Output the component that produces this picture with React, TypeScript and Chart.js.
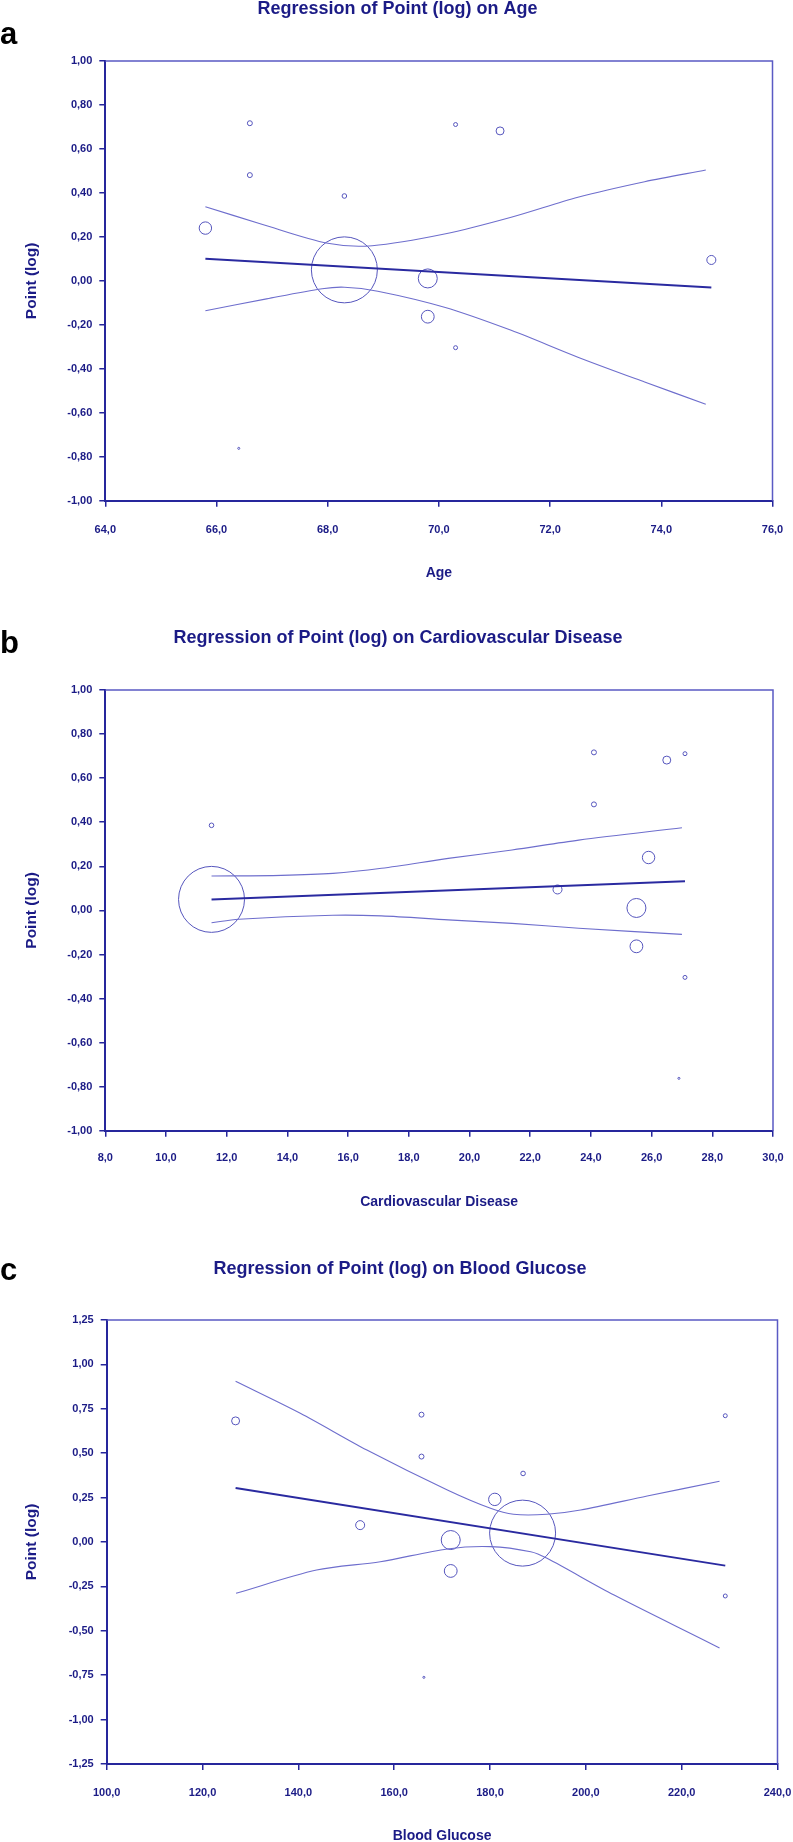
import React, { useEffect, useRef } from "react";
import { Chart, registerables } from "chart.js";

Chart.register(...registerables);

// ---- Study data ----
const pointLog = [0.717, 0.481, 0.386, 0.05, -0.762, 0.711, 0.682, 0.011, -0.163, -0.304, 0.095, 0.24];
const studyAge = [66.6, 66.6, 68.3, 68.3, 66.4, 70.3, 71.1, 69.8, 69.8, 70.3, 74.9, 65.8];
const studyCvd = [24.1, 24.1, 11.5, 11.5, 26.9, 27.1, 26.5, 25.5, 25.5, 27.1, 22.9, 25.9];
const studyGlucose = [165.7, 165.7, 186.9, 186.8, 166.2, 229.1, 126.9, 171.8, 171.8, 229.1, 152.9, 181.0];
const studyWeight = [0.47, 0.47, 0.4, 82.6, 0.08, 0.3, 1.21, 6.85, 3.11, 0.3, 1.54, 2.92];

// ---- Tick values ----
const ageTicks = [64, 66, 68, 70, 72, 74, 76];
const cvdTicks = [8, 10, 12, 14, 16, 18, 20, 22, 24, 26, 28, 30];
const glucoseTicks = [100, 120, 140, 160, 180, 200, 220, 240];
const pointTicksAB = [-1, -0.8, -0.6, -0.4, -0.2, 0, 0.2, 0.4, 0.6, 0.8, 1];
const pointTicksC = [-1.25, -1, -0.75, -0.5, -0.25, 0, 0.25, 0.5, 0.75, 1, 1.25];

// ---- Regression line and confidence band ----
const ageFitX = [65.8, 74.9];
const ageFitY = [0.1, -0.03];
const ageUpperX = [65.8, 66.8, 68.0, 68.8, 70.1, 71.3, 72.5, 73.7, 74.8];
const ageUpperY = [0.337, 0.259, 0.171, 0.16, 0.213, 0.289, 0.38, 0.451, 0.504];
const ageLowerX = [65.8, 66.9, 67.9, 68.3, 68.9, 70.1, 71.3, 72.5, 73.7, 74.8];
const ageLowerY = [-0.136, -0.082, -0.036, -0.029, -0.047, -0.12, -0.225, -0.347, -0.46, -0.561];

const cvdFitX = [11.5, 27.1];
const cvdFitY = [0.05, 0.132];
const cvdUpperX = [11.5, 13.8, 15.5, 17.1, 19.3, 21.4, 23.6, 27.0];
const cvdUpperY = [0.156, 0.159, 0.168, 0.191, 0.236, 0.274, 0.319, 0.375];
const cvdLowerX = [11.5, 12.4, 15.5, 17.1, 19.3, 21.4, 23.6, 27.0];
const cvdLowerY = [-0.056, -0.04, -0.022, -0.025, -0.043, -0.059, -0.081, -0.109];

const gluFitX = [126.9, 229.1];
const gluFitY = [0.304, -0.133];
const gluUpperX = [126.9, 140.4, 154.3, 171.1, 180.1, 184.9, 191.9, 198.9, 212.8, 227.9];
const gluUpperY = [0.905, 0.725, 0.518, 0.293, 0.19, 0.156, 0.156, 0.18, 0.259, 0.342];
const gluLowerX = [127.0, 143.8, 157.1, 171.1, 180.1, 188.5, 191.9, 205.9, 224.6, 227.9];
const gluLowerY = [-0.289, -0.158, -0.111, -0.039, -0.026, -0.055, -0.092, -0.299, -0.552, -0.597];

// ---- Styles ----
const NAVY = "#1b1b86";
const AXIS = "#26269c";
const FRAME = "#5a5ac4";
const BUBBLE = "#5555bd";
const FIT = "#2a2aa0";
const BAND = "#6e6ecd";
const FONT = "'Liberation Sans', Arial, Helvetica, sans-serif";
const Y_TITLE_SIZE = 15.5;
const Y_TITLE_CENTER = 32;

type Spec = {
  letter: string;
  title: string;
  xTitle: string;
  xs: number[];
  xTicks: number[];
  yTicks: number[];
  fitX: number[]; fitY: number[];
  upX: number[]; upY: number[];
  loX: number[]; loY: number[];
  top: number; height: number;
  plotLeft: number; plotRight: number;
  titleCenter: number;
  titlePadTop: number; titlePadBottom: number;
  xAxisHeight: number; xTitlePadBottom: number;
  xTickPad: number;
  letterTop: number;
};

type Geom = { padLeft: number; padRight: number };

const toXY = (xs: number[], ys: number[]) => xs.map((x, i) => ({ x, y: ys[i] }));

const framePlugin = {
  id: "frameTopRight",
  beforeDatasetsDraw(chart: any) {
    const { ctx, chartArea: a } = chart;
    ctx.save();
    ctx.strokeStyle = FRAME;
    ctx.lineWidth = 1.5;
    ctx.beginPath();
    ctx.moveTo(a.left, a.top);
    ctx.lineTo(a.right, a.top);
    ctx.lineTo(a.right, a.bottom);
    ctx.stroke();
    ctx.restore();
  },
};

function yTitlePad(g: Geom) {
  return { top: Y_TITLE_CENTER - g.padLeft - (Y_TITLE_SIZE * 1.2) / 2, bottom: 0 };
}

function geomFor(s: Spec): Geom {
  const padRight = 793 - s.plotRight;
  return { padRight, padLeft: Math.max(0, 2 * s.titleCenter - 793 + padRight) };
}

function buildConfig(s: Spec, g: Geom): any {
  const bubbles = s.xs.map((x, i) => ({ x, y: pointLog[i], r: Math.sqrt(studyWeight[i]) * 3.63 }));
  const lineBase = { type: "line", pointRadius: 0, fill: false, tension: 0.3 };
  return {
    type: "bubble",
    data: {
      datasets: [
        { ...lineBase, data: toXY(s.upX, s.upY), borderColor: BAND, borderWidth: 1.1 },
        { ...lineBase, data: toXY(s.loX, s.loY), borderColor: BAND, borderWidth: 1.1 },
        { ...lineBase, tension: 0, data: toXY(s.fitX, s.fitY), borderColor: FIT, borderWidth: 2 },
        {
          type: "bubble",
          data: bubbles,
          backgroundColor: "rgba(0,0,0,0)",
          borderColor: BUBBLE,
          borderWidth: 1,
          hoverRadius: 0,
        },
      ],
    },
    options: {
      responsive: false,
      animation: false,
      events: [],
      layout: { autoPadding: false, padding: { left: g.padLeft, right: g.padRight, top: 0, bottom: 0 } },
      plugins: {
        legend: { display: false },
        tooltip: { enabled: false },
        title: {
          display: true,
          text: s.title,
          color: NAVY,
          font: { family: FONT, size: 18, weight: "bold", lineHeight: 1.2 },
          padding: { top: s.titlePadTop, bottom: s.titlePadBottom },
        },
      },
      scales: {
        x: {
          type: "linear",
          min: s.xTicks[0],
          max: s.xTicks[s.xTicks.length - 1],
          afterBuildTicks: (sc: any) => { sc.ticks = s.xTicks.map((v) => ({ value: v })); },
          afterFit: (sc: any) => {
            sc.height = s.xAxisHeight;
            sc.paddingLeft = 0;
            sc.paddingRight = 0;
          },
          ticks: {
            color: NAVY,
            font: { family: FONT, size: 11, weight: "bold" },
            padding: s.xTickPad,
            maxRotation: 0,
            autoSkip: false,
            callback: (v: any) => Number(v).toFixed(1).replace(".", ","),
          },
          grid: { display: true, drawOnChartArea: false, drawTicks: true, tickLength: 6, color: AXIS, lineWidth: 1.5 },
          border: { display: true, color: AXIS, width: 2 },
          title: {
            display: true,
            text: s.xTitle,
            color: NAVY,
            font: { family: FONT, size: 14, weight: "bold", lineHeight: 1.2 },
            padding: { top: 0, bottom: s.xTitlePadBottom },
          },
        },
        y: {
          type: "linear",
          min: s.yTicks[0],
          max: s.yTicks[s.yTicks.length - 1],
          afterBuildTicks: (sc: any) => { sc.ticks = s.yTicks.map((v) => ({ value: v })); },
          afterFit: (sc: any) => {
            sc.width = s.plotLeft - g.padLeft;
            sc.paddingTop = 0;
            sc.paddingBottom = 0;
          },
          ticks: {
            color: NAVY,
            font: { family: FONT, size: 11, weight: "bold" },
            padding: 7,
            autoSkip: false,
            callback: (v: any) => Number(v).toFixed(2).replace(".", ","),
          },
          grid: { display: true, drawOnChartArea: false, drawTicks: true, tickLength: 6, color: AXIS, lineWidth: 1.5 },
          border: { display: true, color: AXIS, width: 2 },
          title: {
            display: true,
            text: "Point (log)",
            color: NAVY,
            font: { family: FONT, size: Y_TITLE_SIZE, weight: "bold", lineHeight: 1.2 },
            padding: yTitlePad(g),
          },
        },
      },
    },
    plugins: [framePlugin],
  };
}

const panels: Spec[] = [
  {
    letter: "a",
    title: "Regression of Point (log) on Age",
    xTitle: "Age",
    xs: studyAge,
    xTicks: ageTicks,
    yTicks: pointTicksAB,
    fitX: ageFitX, fitY: ageFitY,
    upX: ageUpperX, upY: ageUpperY,
    loX: ageLowerX, loY: ageLowerY,
    top: -4, height: 600,
    plotLeft: 105.3, plotRight: 772.5,
    titleCenter: 397.5,
    titlePadTop: 2, titlePadBottom: 41.4,
    xAxisHeight: 95.3, xTitlePadBottom: 14.9,
    xTickPad: 16.5,
    letterTop: 17.8,
  },
  {
    letter: "b",
    title: "Regression of Point (log) on Cardiovascular Disease",
    xTitle: "Cardiovascular Disease",
    xs: studyCvd,
    xTicks: cvdTicks,
    yTicks: pointTicksAB,
    fitX: cvdFitX, fitY: cvdFitY,
    upX: cvdUpperX, upY: cvdUpperY,
    loX: cvdLowerX, loY: cvdLowerY,
    top: 620, height: 600,
    plotLeft: 105.3, plotRight: 773,
    titleCenter: 398,
    titlePadTop: 7.2, titlePadBottom: 41.2,
    xAxisHeight: 89.2, xTitlePadBottom: 9.8,
    xTickPad: 15,
    letterTop: 626.8,
  },
  {
    letter: "c",
    title: "Regression of Point (log) on Blood Glucose",
    xTitle: "Blood Glucose",
    xs: studyGlucose,
    xTicks: glucoseTicks,
    yTicks: pointTicksC,
    fitX: gluFitX, fitY: gluFitY,
    upX: gluUpperX, upY: gluUpperY,
    loX: gluLowerX, loY: gluLowerY,
    top: 1250, height: 600,
    plotLeft: 106.7, plotRight: 777.5,
    titleCenter: 400,
    titlePadTop: 7.9, titlePadBottom: 40.5,
    xAxisHeight: 86, xTitlePadBottom: 5.6,
    xTickPad: 16.4,
    letterTop: 1253.8,
  },
];

function Panel({ spec }: { spec: Spec }) {
  const ref = useRef<HTMLCanvasElement>(null);
  useEffect(() => {
    if (!ref.current) return;
    const chart = new Chart(ref.current, buildConfig(spec, geomFor(spec)));
    return () => chart.destroy();
  }, [spec]);
  return (
    <>
      <div style={{ position: "absolute", left: 0, top: spec.top, width: 793, height: spec.height }}>
        <canvas ref={ref} width={793} height={spec.height} style={{ display: "block" }} />
      </div>
      <div
        style={{
          position: "absolute",
          left: 0,
          top: spec.letterTop,
          font: `bold 31px ${FONT}`,
          lineHeight: "31px",
          color: "#000",
        }}
      >
        {spec.letter}
      </div>
    </>
  );
}

export default function App() {
  return (
    <div
      style={{
        position: "absolute",
        left: 0,
        top: 0,
        width: 793,
        height: 1842,
        overflow: "hidden",
        background: "#fff",
      }}
    >
      {panels.map((p) => (
        <Panel key={p.letter} spec={p} />
      ))}
    </div>
  );
}
